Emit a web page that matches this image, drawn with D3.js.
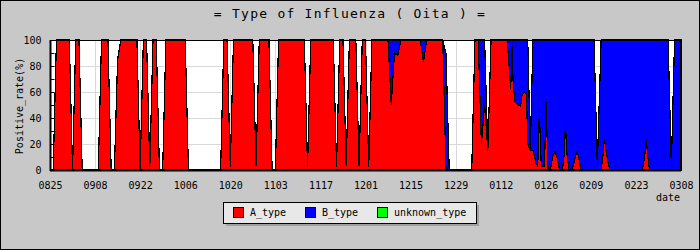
<!DOCTYPE html>
<html><head><meta charset="utf-8">
<script src="https://cdn.jsdelivr.net/npm/d3@7"></script>
<style>
html,body{margin:0;padding:0;background:#c8c8c8;}
svg text{font-family:"DejaVu Sans Mono",monospace;}
</style></head>
<body>
<svg id="c" width="700" height="250"></svg>
<script>
// ---- data (keypoints: day offset from 08/25, percent values) ----
const dayIndex = [0,1,2,6,7,8,9,10,15,16,18,19,20,21,22,27,28,29,30,31,32,33,34,35,36,42,43,53,54,55,56,57,63,64,65,68,69,70,71,79,80,81,88,89,90,91,92,93,95,96,97,98,99,100,105,106,107,108,109,115,116,117,122,123,124,131,132,133,134,135,136,137,142,142.6,143.1,143.5,143.9,144.5,145.5,146.2,146.6,147.3,148.0,148.4,149.2,150,151,151.5,152,152.6,153.6,154.1,154.7,155.4,156.2,156.8,157.4,158.3,159.2,159.8,160.1,160.5,161.2,162.2,163.2,163.7,164.2,164.9,169,170,171.2,171.8,172.2,172.7,173.4,174,184,184.7,185.2,185.7,186.2,192,193,194,196];
const aType = [0,0,100,100,0,100,100,0,0,100,100,0,0,85,100,100,0,100,100,2,100,100,0,0,100,100,0,0,100,100,2,100,100,3,100,100,0,0,100,100,2,100,100,2,100,100,3,100,100,3,100,100,2,100,100,50,90,88,100,100,83,100,100,0,0,0,100,100,20,50,15,100,100,80,62,95,65,52,50,49,57,60,58,20,15,15,5,3,45,3,3,52,0,0,11,14,11,0,0,14,36,14,0,0,10,14,10,0,0,0,0,12,24,15,5,0,0,10,24,10,0,0,0,0,0];
const bType = [0,0,0,0,0,0,0,0,0,0,0,0,0,0,0,0,0,0,0,0,0,0,0,0,0,0,0,0,0,0,0,0,0,0,0,0,0,0,0,0,0,0,0,0,0,0,0,0,0,0,0,0,0,0,0,50,10,12,0,0,17,0,0,90,0,0,0,0,80,50,0,0,0,20,38,5,35,48,50,51,43,40,42,80,0,85,95,97,55,97,97,48,100,100,89,86,89,100,100,86,64,86,100,100,90,86,90,100,100,3,100,88,76,85,95,100,100,90,76,90,100,100,3,100,100];
const unknownType = dayIndex.map(() => 0);
const tickLabels = ["0825","0908","0922","1006","1020","1103","1117","1201","1215","1229","0112","0126","0209","0223","0308"];
const yTicks = [0,20,40,60,80,100];
const seriesNames = ["A_type","B_type","unknown_type"];
const seriesColors = ["#ff0000","#0000ff","#00ff00"];

const svg = d3.select("#c");
const W = 700, H = 250;
const m = {l:50, r:681, t:40, b:170};

svg.append("rect").attr("x",0.5).attr("y",0.5).attr("width",W-1).attr("height",H-1)
  .attr("fill","#c8c8c8").attr("stroke","#000");

svg.append("text").attr("x",350).attr("y",18).attr("text-anchor","middle")
  .attr("font-size",13).attr("letter-spacing",1.25).attr("fill","#000")
  .text("= Type of Influenza ( Oita ) =");

const x = d3.scaleLinear().domain([0,196]).range([m.l, m.r]);
const y = d3.scaleLinear().domain([0,100]).range([m.b, m.t]);

// plot bg
svg.append("rect").attr("x",m.l).attr("y",m.t).attr("width",m.r-m.l).attr("height",m.b-m.t).attr("fill","#fff");

const tickVals = tickLabels.map((d,i)=>i*14);
const grid = svg.append("g").attr("stroke","#d9d9d9").attr("stroke-width",1);
grid.selectAll("line.v").data(tickVals).join("line")
  .attr("x1",d=>Math.round(x(d))+0.5).attr("x2",d=>Math.round(x(d))+0.5)
  .attr("y1",m.t).attr("y2",m.b);
grid.selectAll("line.h").data(yTicks.slice(1,-1)).join("line")
  .attr("x1",m.l).attr("x2",m.r).attr("y1",d=>Math.round(y(d))+0.5).attr("y2",d=>Math.round(y(d))+0.5);

const rows = dayIndex.map((d,i)=>({day:d, A_type:aType[i], B_type:bType[i], unknown_type:unknownType[i]}));
const stack = d3.stack().keys(seriesNames);
const layers = stack(rows);

svg.append("clipPath").attr("id","pc").append("rect")
  .attr("x",m.l).attr("y",m.t-1).attr("width",m.r-m.l+1).attr("height",m.b-m.t+2);

const area = d3.area().x(d=>x(d.data.day)).y0(d=>y(d[0])).y1(d=>y(d[1]));
svg.append("g").attr("clip-path","url(#pc)").selectAll("path").data(layers).join("path")
  .attr("d",area).attr("fill",(d,i)=>seriesColors[i]).attr("stroke","#000").attr("stroke-width",1.2)
  .attr("shape-rendering","crispEdges");

// frame
svg.append("rect").attr("x",m.l+0.5).attr("y",m.t+0.5).attr("width",m.r-m.l-1).attr("height",m.b-m.t-1)
  .attr("fill","none").attr("stroke","#000");
svg.append("line").attr("x1",m.l+0.5).attr("x2",m.l+0.5).attr("y1",m.t).attr("y2",m.b+1).attr("stroke","#000").attr("stroke-width",2);
svg.append("line").attr("x1",m.l).attr("x2",m.r).attr("y1",m.b+0.5).attr("y2",m.b+0.5).attr("stroke","#000").attr("stroke-width",2);

// y axis
const yAxis = d3.axisLeft(y).tickValues(d3.range(0,101,10)).tickSize(-4).tickFormat(d=>yTicks.includes(d)?d:"").tickPadding(9);
const ga = svg.append("g").attr("transform",`translate(${m.l+0.5},0)`).call(yAxis);
ga.select(".domain").remove();
ga.selectAll("line").attr("stroke","#000");
ga.selectAll("text").attr("font-size",10).attr("fill","#000").attr("font-family","DejaVu Sans Mono");

// x axis
const xAxis = d3.axisBottom(x).tickValues(tickVals).tickSize(0).tickPadding(12).tickFormat((d,i)=>tickLabels[i]);
const gx = svg.append("g").attr("transform",`translate(0,${m.b})`).call(xAxis);
gx.select(".domain").remove();
gx.selectAll("text").attr("font-size",10).attr("fill","#000").attr("font-family","DejaVu Sans Mono");

svg.append("text").attr("x",680).attr("y",201).attr("text-anchor","end").attr("font-size",10).text("date");
svg.append("text").attr("transform","translate(23,106) rotate(-90)").attr("text-anchor","middle")
  .attr("font-size",10).text("Positive_rate(%)");

// legend
const lg = svg.append("g");
lg.append("rect").attr("x",226).attr("y",205).attr("width",253).attr("height",21).attr("fill","#a0a0a0");
lg.append("rect").attr("x",223.5).attr("y",202.5).attr("width",253).attr("height",21).attr("fill","#e8e8e8").attr("stroke","#000");
const lx = [233,305,377];
seriesNames.forEach((n,i)=>{
  lg.append("rect").attr("x",lx[i]+0.5).attr("y",207.5).attr("width",10).attr("height",10)
    .attr("fill",seriesColors[i]).attr("stroke","#000");
  lg.append("text").attr("x",lx[i]+17).attr("y",216).attr("font-size",10).text(n);
});
</script>
</body></html>
